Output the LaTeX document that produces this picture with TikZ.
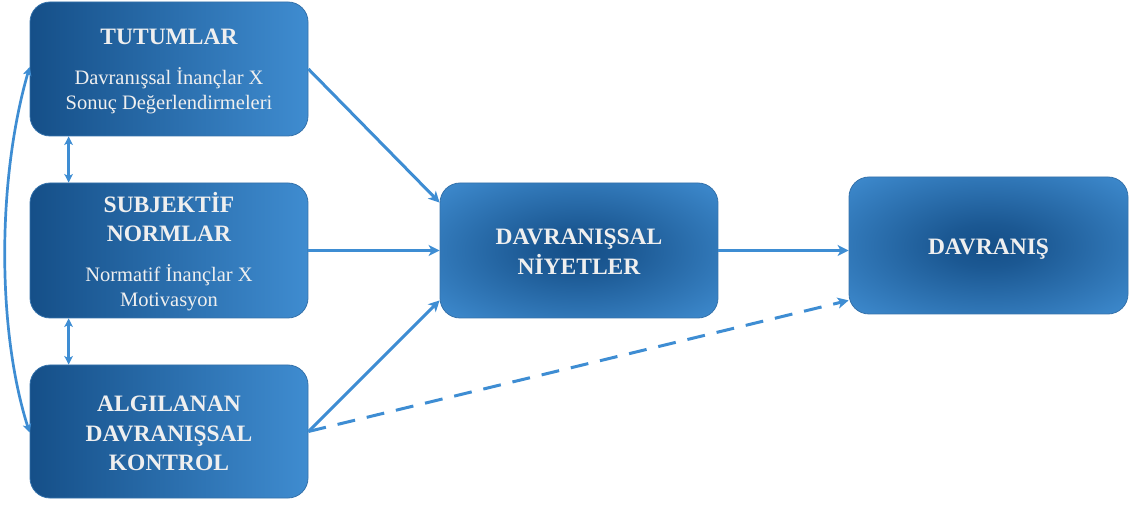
\documentclass[tikz,border=0pt]{standalone}
\usepackage{fontspec}
\setmainfont{Liberation Serif}
\usetikzlibrary{arrows.meta}

\definecolor{boxdark}{HTML}{154F88}
\definecolor{boxlight}{HTML}{3F8CD0}
\definecolor{boxedge}{HTML}{3572AB}
\definecolor{arrowblue}{HTML}{3E8DD3}
\definecolor{labelwhite}{HTML}{EFEFEF}

% soft dark centre fading to the lighter blue towards the edges
\pgfdeclareradialshading{softglow}{\pgfpoint{0bp}{0bp}}{%
  color(0bp)=(boxdark); color(8bp)=(boxdark!85!boxlight);
  color(36bp)=(boxlight); color(50bp)=(boxlight)}

\begin{document}
\begin{tikzpicture}[x=1pt,y=1pt,
  box/.style={rectangle, rounded corners=20pt, draw=boxedge, line width=0.8pt,
    minimum width=278pt, minimum height=134pt, inner sep=0pt},
  sidebox/.style={box, left color=boxdark, right color=boxlight},
  glowbox/.style={box, shading=softglow},
  head/.style={anchor=base, text=labelwhite, inner sep=0pt,
    font=\fontsize{23.5}{28}\selectfont\bfseries},
  sub/.style={anchor=base, text=labelwhite, inner sep=0pt,
    font=\fontsize{20.5}{25}\selectfont},
  link/.style={draw=arrowblue, line width=3pt,
    -{Stealth[length=11pt,width=11pt,inset=3pt]}},
  twoway/.style={draw=arrowblue, line width=2.7pt,
    {Stealth[length=8.5pt,width=8.5pt,inset=2pt]}-{Stealth[length=8.5pt,width=8.5pt,inset=2pt]}}
]
\useasboundingbox (0,0) rectangle (1132,506);

% boxes
\node[sidebox] (tut) at (169,437) {};
\node[sidebox, minimum height=135pt] (sub) at (169,255.5) {};
\node[sidebox, minimum height=133pt] (alg) at (169,74.5) {};
\node[glowbox, minimum height=135pt] (niy) at (579,255.5) {};
\node[glowbox, minimum width=279pt, minimum height=137pt] (dav) at (988.5,260.5) {};

% labels
\node[head] (tutA) at (169,461) {TUTUMLAR};
\node[sub]  (tutB) at (169,421) {Davranışsal İnançlar X};
\node[sub]  (tutC) at (169,396) {Sonuç Değerlendirmeleri};

\node[head] (subA) at (169,293) {SUBJEKTİF};
\node[head] (subB) at (169,264) {NORMLAR};
\node[sub]  (subC) at (169,224) {Normatif İnançlar X};
\node[sub]  (subD) at (169,199) {Motivasyon};

\node[head] (algA) at (169,94) {ALGILANAN};
\node[head] (algB) at (169,64) {DAVRANIŞSAL};
\node[head] (algC) at (169,36) {KONTROL};

\node[head] (niyA) at (579,261) {DAVRANIŞSAL};
\node[head] (niyB) at (579,231) {NİYETLER};

\node[head] (davA) at (988.5,251) {DAVRANIŞ};

% connectors
\coordinate (tutL) at ([yshift=2pt]tut.west);
\coordinate (algL) at ([yshift=-1pt]alg.west);
\draw[twoway] (algL) .. controls (-3,176) and (-3,326) .. (tutL);

\draw[twoway] ([xshift=39pt]tut.south west) -- ([xshift=39pt]sub.north west);
\draw[twoway] ([xshift=39pt]sub.south west) -- ([xshift=39pt]alg.north west);

\draw[link] (tut.east) -- ([yshift=-20pt]niy.north west);
\draw[link] (sub.east) -- (niy.west);
\draw[link] (alg.east) -- ([yshift=18pt]niy.south west);
\draw[link] (niy.east) -- (niy.east -| dav.west);
\draw[link, dash pattern=on 18pt off 12pt] (alg.east) -- ([yshift=14pt]dav.south west);
\end{tikzpicture}
\end{document}
